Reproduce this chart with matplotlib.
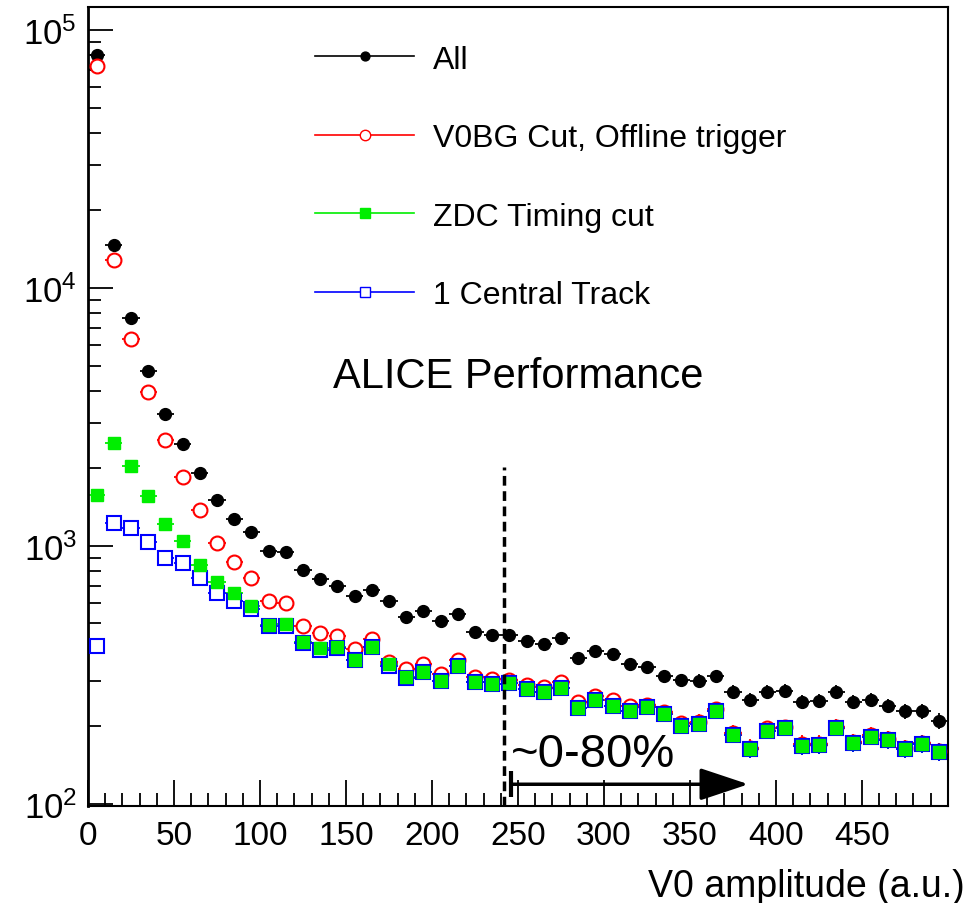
import numpy as np
import matplotlib.pyplot as plt
from matplotlib.lines import Line2D
from matplotlib.ticker import FixedLocator, MultipleLocator, NullFormatter

plt.rcParams['font.family'] = 'Liberation Sans'
plt.rcParams['mathtext.fontset'] = 'custom'
plt.rcParams['mathtext.rm'] = 'Liberation Sans'
plt.rcParams['mathtext.it'] = 'Liberation Sans'

bin_width = 10
amplitude = np.arange(bin_width / 2, 500, bin_width)  # bin centres of the V0 amplitude histogram

counts_all = [80000, 14700, 7650, 4770, 3250, 2490, 1920, 1510, 1270, 1130,
              957, 950, 807, 745, 700, 640, 675, 612, 531, 560,
              512, 545, 464, 452, 452, 428, 417, 440, 368, 392,
              381, 349, 340, 313, 302, 300, 313, 272, 253, 272,
              274, 248, 250, 272, 248, 253, 240, 229, 228, 210]
counts_v0bg = [72500, 12800, 6350, 3950, 2570, 1850, 1380, 1030, 867, 752,
               612, 601, 490, 460, 448, 399, 436, 355, 334, 349,
               318, 362, 309, 305, 303, 288, 283, 296, 247, 262,
               252, 240, 242, 226, 205, 208, 233, 188, 165, 196,
               198, 171, 171, 199, 174, 184, 178, 164, 172, 160]
counts_zdc = [1580, 2510, 2040, 1560, 1220, 1045, 844, 725, 658, 585,
              494, 497, 425, 402, 405, 361, 405, 349, 311, 325,
              300, 343, 297, 292, 295, 279, 272, 282, 236, 253,
              240, 229, 238, 223, 201, 204, 228, 185, 163, 192,
              197, 168, 169, 197, 172, 182, 176, 163, 171, 159]
counts_track = [410, 1228, 1174, 1037, 898, 859, 752, 658, 612, 570,
                490, 490, 421, 395, 402, 361, 405, 343, 308, 325,
                300, 343, 297, 292, 295, 279, 272, 282, 236, 253,
                240, 229, 238, 223, 201, 204, 228, 185, 163, 192,
                197, 168, 169, 197, 172, 182, 176, 163, 171, 159]

labels = ['All', 'V0BG Cut, Offline trigger', 'ZDC Timing cut', '1 Central Track']
colors = ['black', '#ff0000', '#00ee00', '#0000ff']

cut_position = 242   # ~80% centrality boundary
arrow_start = 246
arrow_end = 384
arrow_level = 119

fig = plt.figure(figsize=(9.76, 9.04), dpi=100)
ax = fig.add_axes([0.0902, 0.1073, 0.881, 0.8839])

series = [counts_all, counts_v0bg, counts_zdc, counts_track]
styles = [dict(marker='o', ms=8.5, mfc='black', mec='black'),
          dict(marker='o', ms=10, mfc='white', mec='#ff0000', mew=1.5),
          dict(marker='s', ms=9, mfc='#00ee00', mec='#00ee00'),
          dict(marker='s', ms=10.5, mfc='white', mec='#0000ff', mew=1.5)]
# draw order: black, red, blue, green (green squares sit inside the blue outlines)
marker_z = [3, 4, 6, 5]

for y, c, st, z in zip(series, colors, styles, marker_z):
    y = np.array(y, dtype=float)
    ax.errorbar(amplitude, y, xerr=bin_width / 2, yerr=np.sqrt(y), fmt='none',
                ecolor=c, elinewidth=1.3, capsize=0, zorder=2)
    ax.plot(amplitude, y, linestyle='none', zorder=z, **st)

ax.set_yscale('log')
ax.set_xlim(0, 500)
ax.set_ylim(98, 1.23e5)

ax.xaxis.set_major_locator(FixedLocator(np.arange(0, 500, 50)))
ax.xaxis.set_minor_locator(MultipleLocator(10))
ax.yaxis.set_major_locator(FixedLocator([1e2, 1e3, 1e4, 1e5]))
ax.yaxis.set_minor_locator(FixedLocator([m * 10.0 ** k for k in range(2, 5) for m in range(2, 10)]))
ax.yaxis.set_minor_formatter(NullFormatter())
ax.set_yticklabels([r'$10^{2}$', r'$10^{3}$', r'$10^{4}$', r'$10^{5}$'])

ax.tick_params(axis='both', which='both', direction='in', top=False, right=False, width=1.3)
ax.tick_params(axis='x', which='major', length=19, labelsize=24, pad=10)
ax.tick_params(axis='x', which='minor', length=9.5)
ax.tick_params(axis='y', which='major', length=18, labelsize=25, pad=8)
ax.tick_params(axis='y', which='minor', length=9)
ax.spines['left'].set_linewidth(2)
ax.spines['bottom'].set_linewidth(1.5)
ax.spines['top'].set_linewidth(1.5)
ax.spines['right'].set_linewidth(1.5)

ax.set_xlabel('V0 amplitude (a.u.)', fontsize=27, ha='right', va='baseline')
ax.xaxis.set_label_coords(1.0198, -0.1126)

# centrality cut line and arrow
ax.plot([cut_position, cut_position], [98, 2020], color='black', lw=2.5,
        dashes=(2.8, 1.6), zorder=7)
ax.annotate('', xy=(arrow_end, arrow_level), xytext=(arrow_start, arrow_level),
            arrowprops=dict(arrowstyle='-|>,head_length=1.5,head_width=0.5',
                            lw=2.5, color='black', shrinkA=0, shrinkB=0, mutation_scale=20),
            zorder=8)
ax.plot([arrow_start], [arrow_level], marker='|', ms=19, mew=3, color='black', zorder=8)
ax.text(arrow_start, 140, '~0-80%', fontsize=34, ha='left', va='baseline')

ax.text(0.285, 0.524, 'ALICE Performance', transform=ax.transAxes, fontsize=30,
        ha='left', va='baseline')

handles = [Line2D([], [], color=c, lw=1.2, marker=st['marker'],
                  ms=st['ms'] * 0.75, mfc=st['mfc'], mec=st['mec'])
           for c, st in zip(colors, styles)]
ax.legend(handles, labels, loc='upper left', bbox_to_anchor=(0.264, 0.953),
          frameon=False, fontsize=23, handlelength=3.1, handletextpad=0.6,
          labelspacing=1.52, borderpad=0, borderaxespad=0)

fig.savefig('out.png', dpi=100)
